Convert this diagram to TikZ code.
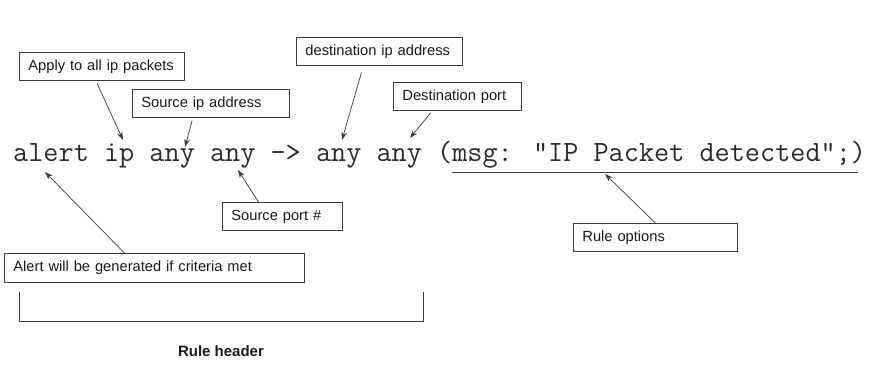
\documentclass[tikz,border=0pt]{standalone}
\usepackage{fontspec}
\setmainfont{Liberation Sans}
\usetikzlibrary{arrows.meta, calc}
\definecolor{snInk}{HTML}{1A1A1A}
\definecolor{snCode}{HTML}{2B2B2B}
\definecolor{snLine}{HTML}{3A3A3A}
\tikzset{
  note/.style={
    draw=snLine, line width=0.8pt, fill=white, anchor=north west,
    inner xsep=9pt, inner ysep=0pt, minimum height=28pt, align=left,
    font=\fontsize{14.7}{17}\selectfont, text=snInk
  },
  pointer/.style={-{Stealth[length=8pt, width=5.5pt]}, line width=0.7pt, draw=snLine},
  rail/.style={line width=0.8pt, draw=snLine},
}

\begin{document}
\begin{tikzpicture}[x=1pt, y=-1pt]
  \useasboundingbox (0,0) rectangle (875,372);
  % the rule line itself
  \node[anchor=base west, inner sep=0pt, text=snCode,
        font=\ttfamily\fontsize{29.4}{32}\selectfont] (rule) at (13,161)
    {alert ip any any -> any any (msg: "IP Packet detected";)};
  \draw[rail] (452,172) coordinate (optL) -- (858,172) coordinate (optR);

  % where the pointers land
  \coordinate (ipTip)      at (123,140);
  \coordinate (srcIpTip)   at (185,147);
  \coordinate (dstIpTip)   at (342,140);
  \coordinate (dstPortTip) at (410,138);
  \coordinate (srcPortTip) at (238,170);
  \coordinate (alertTip)   at (45,172);
  \coordinate (optTip)     at (605,174);

  % labels
  \node[note, text width=147pt] (apply)   at (19,52)  {Apply to all ip packets};
  \node[note, text width=139pt] (srcIp)   at (132,89) {Source ip address};
  \node[note, text width=148pt] (dstIp)   at (296,37) {destination ip address};
  \node[note, text width=110pt] (dstPort) at (393,82) {Destination port};
  \node[note, text width=102pt] (srcPort) at (222,202) {Source port \#};
  \node[note, text width=282pt, minimum height=29pt] (alert) at (4,253)
    {Alert will be generated if criteria met};
  \node[note, text width=146pt] (opts)    at (573,223) {Rule options};

  % pointers
  \draw[pointer, shorten <=3pt] ([xshift=-6pt]apply.south) -- (ipTip);
  \draw[pointer, shorten <=3pt] ([xshift=-18pt]srcIp.south) -- (srcIpTip);
  \draw[pointer, shorten <=7pt] ([xshift=-16pt]dstIp.south) -- (dstIpTip);
  \draw[pointer, shorten <=3pt] ([xshift=-25pt]dstPort.south) -- (dstPortTip);
  \draw[pointer] ([xshift=-24pt]srcPort.north) -- (srcPortTip);
  \draw[pointer] ([xshift=-30pt]alert.north) -- (alertTip);
  \draw[pointer] (opts.north) -- (optTip);

  % header bracket
  \draw[rail] (19,292) coordinate (hdL) |- (423,321) -- (423,292) coordinate (hdR);
  \node[anchor=base, inner sep=0pt, text=snInk,
        font=\bfseries\fontsize{15}{18}\selectfont] (hdr) at (221,356) {Rule header};
\end{tikzpicture}
\end{document}
